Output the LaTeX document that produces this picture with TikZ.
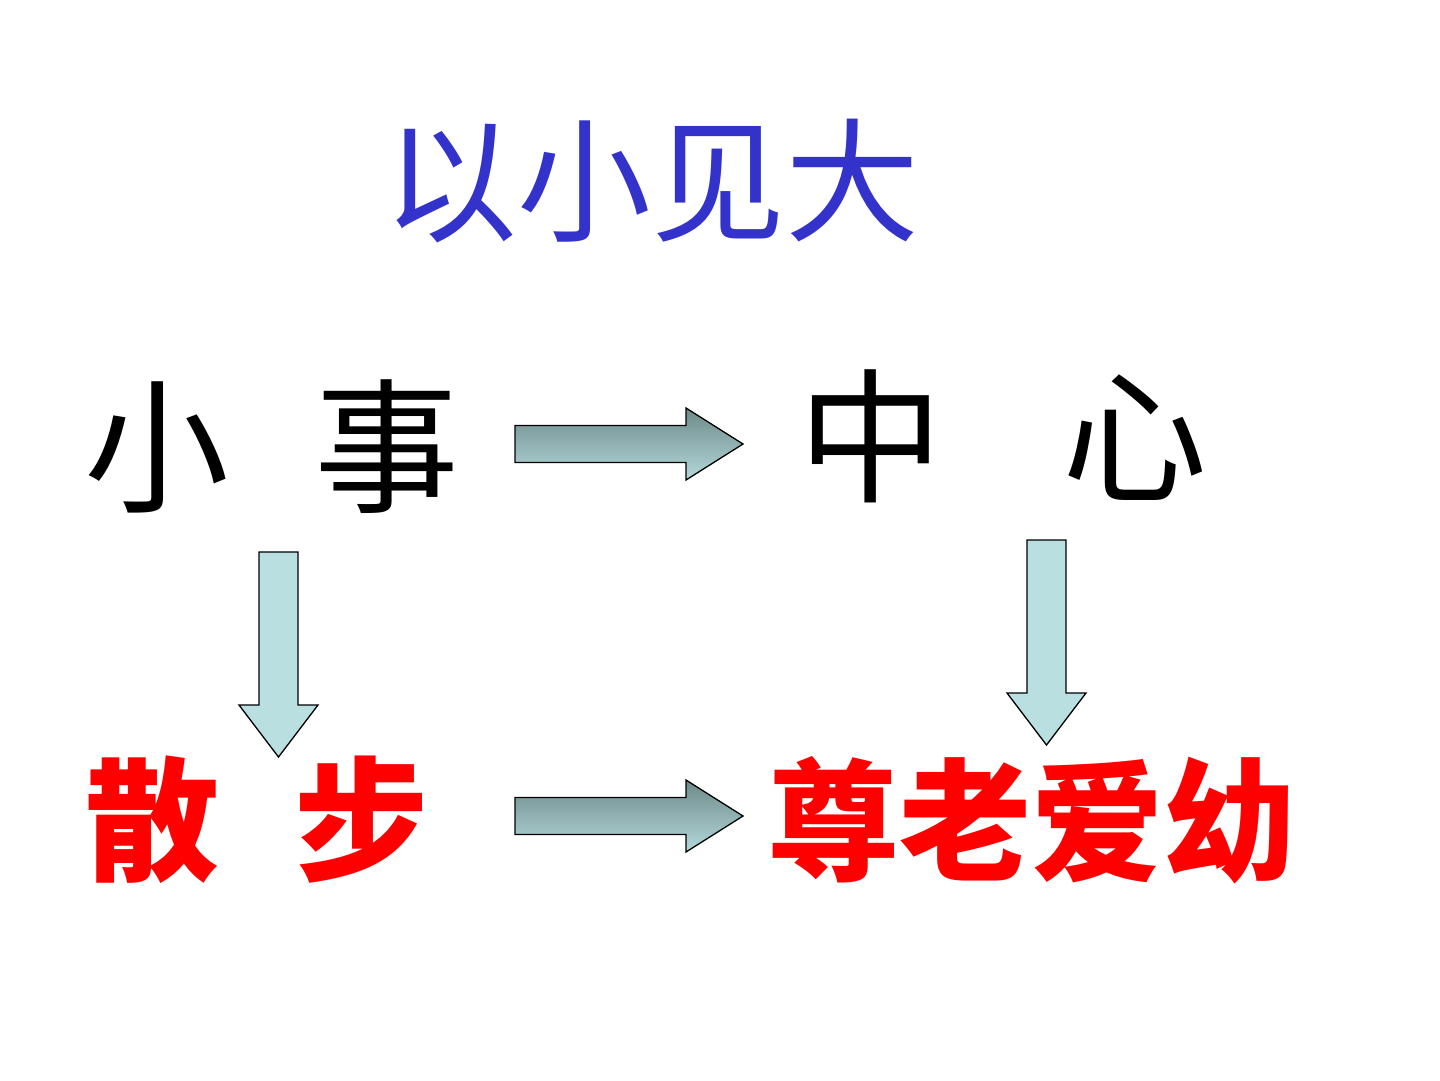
\documentclass[tikz,border=0pt]{standalone}
\usepackage{fontspec}
\newfontfamily\cjk{Noto Sans CJK SC}
\definecolor{titleblue}{HTML}{3333CC}
\definecolor{arrdark}{HTML}{6E8A8A}
\definecolor{arrlight}{HTML}{B4D8DA}
\definecolor{arrblue}{HTML}{B9DFE1}
\tikzset{
  txt/.style={inner sep=0pt, outer sep=0pt, anchor=center},
  harrstyle/.style={draw=black, line width=1.3pt, line join=miter, top color=arrdark, bottom color=arrlight},
  varrstyle/.style={draw=black, line width=1.3pt, line join=miter, fill=arrblue},
  harr/.pic={\path[harrstyle] (0,-18.5) -- (171,-18.5) -- (171,-36) -- (228,0) -- (171,36) -- (171,18.5) -- (0,18.5) -- cycle;},
  varr/.pic={\path[varrstyle] (-19.5,0) -- (19.5,0) -- (19.5,153) -- (39.5,153) -- (0,205) -- (-39.5,153) -- (-19.5,153) -- cycle;}
}
\begin{document}
\begin{tikzpicture}[x=1pt,y=-1pt]
\useasboundingbox[fill=white] (0,0) rectangle (1440,1080);
\node[txt, text=titleblue, font=\cjk\fontsize{134}{134}\selectfont] (title) at (651,181) {以小见大};
\node[txt, text=black, font=\cjk\fontsize{145}{145}\selectfont] (xs) at (272,447) {小\hspace{85pt}事};
\node[txt, text=black, font=\cjk\fontsize{145}{145}\selectfont] (zx) at (1003,436) {中\hspace{119pt}心};
\node[txt, text=red, font=\cjk\bfseries\fontsize{134}{134}\selectfont] (sb) at (257,820) {散\hspace{76pt}步};
\node[txt, text=red, font=\cjk\bfseries\fontsize{132}{132}\selectfont] (zl) at (1031,820) {尊老爱幼};
\coordinate (a1) at (515,444);
\coordinate (a2) at (515,816);
\coordinate (a3) at (278.5,552);
\coordinate (a4) at (1046.5,540);
\pic at (a1) {harr};
\pic at (a2) {harr};
\pic at (a3) {varr};
\pic at (a4) {varr};
\end{tikzpicture}
\end{document}
